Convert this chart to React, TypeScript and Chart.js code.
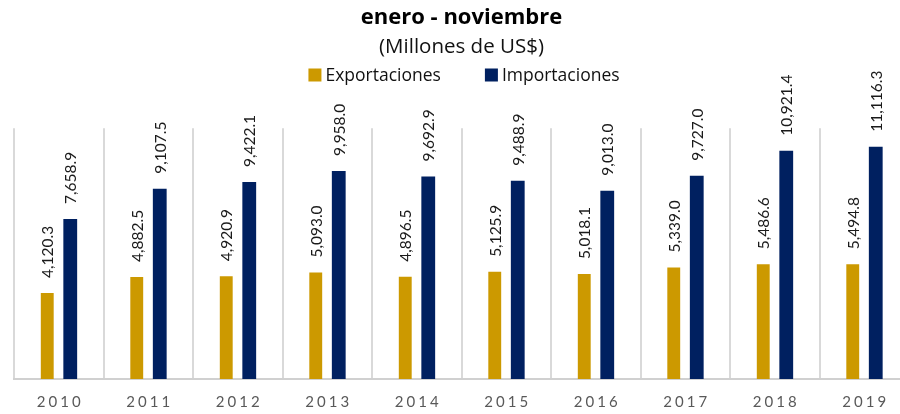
import React, { useEffect, useRef } from 'react';
import { Chart, registerables } from 'chart.js';

Chart.register(...registerables);

const years = ['2010', '2011', '2012', '2013', '2014', '2015', '2016', '2017', '2018', '2019'];
const exportaciones = [4120.3, 4882.5, 4920.9, 5093.0, 4896.5, 5125.9, 5018.1, 5339.0, 5486.6, 5494.8];
const importaciones = [7658.9, 9107.5, 9422.1, 9958.0, 9692.9, 9488.9, 9013.0, 9727.0, 10921.4, 11116.3];
const seriesNames = ['Exportaciones', 'Importaciones'];
const seriesColors = ['#CC9900', '#002060'];
const titleText = 'enero - noviembre';
const subtitleText = '(Millones de US$)';

const NUM_FONT = 'Lato, "Open Sans", sans-serif';
const TXT_FONT = '"Open Sans", Lato, sans-serif';

const fmt = (v: number) =>
  v.toLocaleString('en-US', { minimumFractionDigits: 1, maximumFractionDigits: 1 });

const valueLabels = {
  id: 'valueLabels',
  afterDatasetsDraw(chart: any) {
    const ctx = chart.ctx;
    ctx.save();
    ctx.font = `15.5px ${NUM_FONT}`;
    ctx.fillStyle = '#1a1a1a';
    ctx.textAlign = 'left';
    ctx.textBaseline = 'middle';
    chart.data.datasets.forEach((ds: any, i: number) => {
      const meta = chart.getDatasetMeta(i);
      meta.data.forEach((bar: any, j: number) => {
        ctx.save();
        ctx.translate(bar.x + 1, bar.y - 15);
        ctx.rotate(-Math.PI / 2);
        ctx.fillText(fmt(ds.data[j]), 0, 0);
        ctx.restore();
      });
    });
    ctx.restore();
  },
};

const spacedXLabels = {
  id: 'spacedXLabels',
  afterDraw(chart: any) {
    const ctx = chart.ctx;
    const xs = chart.scales.x;
    const spacing = 3;
    ctx.save();
    ctx.font = `15px ${NUM_FONT}`;
    ctx.fillStyle = '#595959';
    ctx.textAlign = 'center';
    ctx.textBaseline = 'middle';
    (ctx as any).letterSpacing = `${spacing}px`;
    chart.data.labels.forEach((lab: string, i: number) => {
      ctx.fillText(lab, xs.getPixelForValue(i) + spacing / 2, xs.bottom + 23);
    });
    ctx.restore();
  },
};

const customLegend = {
  id: 'customLegend',
  afterDraw(chart: any) {
    const ctx = chart.ctx;
    ctx.save();
    ctx.font = `17.5px ${TXT_FONT}`;
    ctx.textBaseline = 'middle';
    ctx.textAlign = 'left';
    const box = 13;
    const gap = 4;
    const itemGap = 44;
    const items = chart.data.datasets.map((ds: any) => ({ text: ds.label, color: ds.backgroundColor }));
    const widths = items.map((it: any) => box + gap + ctx.measureText(it.text).width);
    const total = widths.reduce((a: number, b: number) => a + b, 0) + itemGap * (items.length - 1);
    let x = 464 - total / 2;
    const y = 75;
    items.forEach((it: any, i: number) => {
      ctx.fillStyle = it.color;
      ctx.fillRect(x, y - box / 2, box, box);
      ctx.fillStyle = '#111111';
      ctx.fillText(it.text, x + box + gap, y + 1);
      x += widths[i] + itemGap;
    });
    ctx.restore();
  },
};

export default function App() {
  const canvasRef = useRef<HTMLCanvasElement | null>(null);

  useEffect(() => {
    if (!canvasRef.current) return;
    const chart = new Chart(canvasRef.current, {
      type: 'bar',
      data: {
        labels: years,
        datasets: [
          {
            label: seriesNames[0],
            data: exportaciones,
            backgroundColor: seriesColors[0],
            categoryPercentage: 0.514,
            barPercentage: 0.56,
          },
          {
            label: seriesNames[1],
            data: importaciones,
            backgroundColor: seriesColors[1],
            categoryPercentage: 0.514,
            barPercentage: 0.6,
          },
        ],
      },
      options: {
        responsive: true,
        maintainAspectRatio: false,
        animation: false,
        layout: { padding: { left: 14, right: 3, top: 0, bottom: 35 } },
        plugins: {
          legend: { display: false },
          tooltip: { enabled: false },
          title: {
            display: true,
            text: titleText,
            color: '#000000',
            font: { family: TXT_FONT, size: 22, weight: 'bold' },
            padding: { top: 5, bottom: 0 },
          },
          subtitle: {
            display: true,
            text: subtitleText,
            color: '#111111',
            font: { family: TXT_FONT, size: 20.5 },
            padding: { top: 3.5, bottom: 68.7 },
          },
        },
        scales: {
          x: {
            grid: {
              display: true,
              offset: true,
              color: '#D9D9D9',
              lineWidth: 2,
              drawTicks: false,
            },
            border: { display: true, color: '#D0D0D0', width: 2 },
            ticks: { display: false },
          },
          y: {
            display: false,
            min: 0,
            max: 12000,
          },
        },
      },
      plugins: [valueLabels, spacedXLabels, customLegend],
    });
    return () => chart.destroy();
  }, []);

  return (
    <div style={{ position: 'fixed', left: 0, top: 0, width: 900, height: 414, overflow: 'hidden', background: '#fff' }}>
      <div style={{ width: 912, height: 414, position: 'relative' }}>
        <canvas ref={canvasRef} />
      </div>
    </div>
  );
}
